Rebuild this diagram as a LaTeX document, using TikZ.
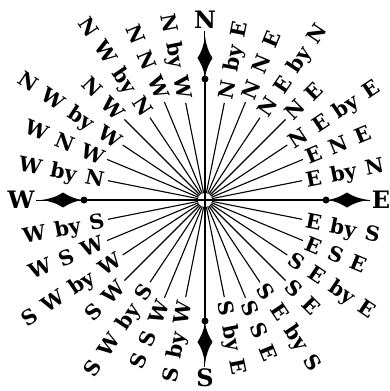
\documentclass[tikz,border=0pt]{standalone}
\usepackage{fontspec}
\setmainfont[WordSpace=1.3]{DejaVu Serif}
\begin{document}
\begin{tikzpicture}[x=1pt,y=1pt,
  lbl/.style={font=\fontsize{20.5}{20.5}\selectfont\bfseries, inner sep=0pt, outer sep=4pt, text height=15pt, text depth=0pt},
  card/.style={font=\fontsize{24}{24}\selectfont\bfseries, inner sep=0pt, outer sep=2pt, text height=17.5pt, text depth=0pt},
  ray/.style={line width=1.1pt},
  axisline/.style={line width=2pt},
  stem/.style={line width=1pt},
  dotnode/.style={circle, fill=black, minimum size=7pt, inner sep=0pt}]
\useasboundingbox (-205,-191) rectangle (185,200);
\node[circle, minimum size=14pt, inner sep=0pt, outer sep=0pt] (c) at (0,0) {};
% rays and labels
\foreach \i/\t/\r in {1/{E by N}/99, 2/{E N E}/106, 3/{N E by E}/99, 4/{N E}/114, 5/{N E by N}/99, 6/{N N E}/106, 7/{N by E}/99,
  9/{N by W}/99, 10/{N N W}/106, 11/{N W by N}/99, 12/{N W}/114, 13/{N W by W}/99, 14/{W N W}/106, 15/{W by N}/99,
  17/{W by S}/99, 18/{W S W}/106, 19/{S W by W}/99, 20/{S W}/114, 21/{S W by S}/99, 22/{S S W}/106, 23/{S by W}/99,
  25/{S by E}/99, 26/{S S E}/106, 27/{S E by S}/99, 28/{S E}/114, 29/{S E by E}/99, 30/{E S E}/106, 31/{E by S}/99}{
  \pgfmathsetmacro\a{\i*11.25}
  \pgfmathtruncatemacro\w{(\i>8)&&(\i<24)}
  \ifnum\w=1
    \pgfmathsetmacro\rot{\a-180}
    \node[lbl, anchor=east, rotate=\rot] (l\i) at (\a:\r) {\t};
  \else
    \node[lbl, anchor=west, rotate=\a] (l\i) at (\a:\r) {\t};
  \fi
  \draw[ray] (c) -- (l\i);
}
% cardinal points
\node[card] (N) at (90:180) {N};
\node[card] (S) at (270:178) {S};
\node[card] (W) at (180:184) {W};
\node[card] (E) at (0:176) {E};
\foreach \d/\a in {dN/90, dW/180, dS/270, dE/0}{
  \node[dotnode] (\d) at (\a:121) {};
  \fill[rotate=\a] (122,0) .. controls (131,1) and (138,5) .. (142,7.5)
     .. controls (147,4) and (155,1) .. (164,0)
     .. controls (155,-1) and (147,-4) .. (142,-7.5)
     .. controls (138,-5) and (131,-1) .. cycle;
}
\draw[axisline] (dS.center) -- (dN.center);
\draw[axisline] (dW.center) -- (dE.center);
\draw[stem] (dN.center) -- (N);
\draw[stem] (dS.center) -- (S);
\draw[stem] (dW.center) -- (W);
\draw[stem] (dE.center) -- (E);
\end{tikzpicture}
\end{document}
